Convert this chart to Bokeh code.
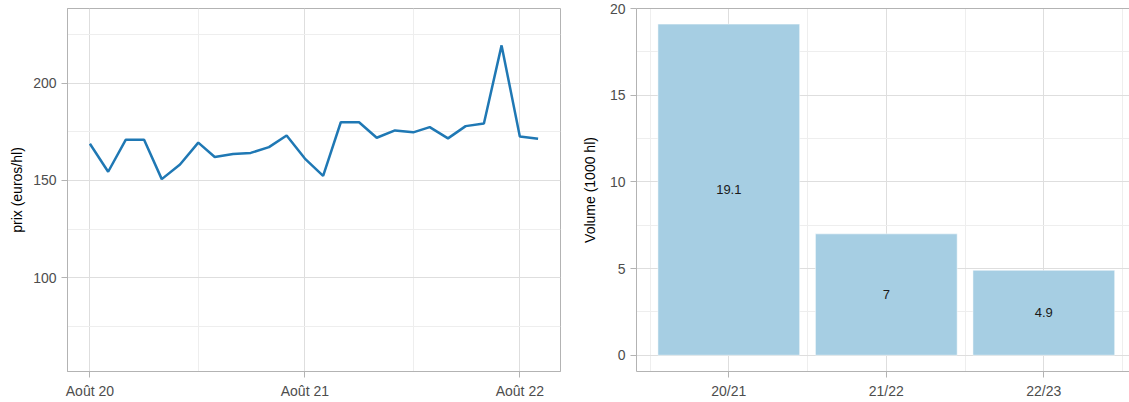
import pandas as pd
from bokeh.plotting import figure
from bokeh.layouts import row
from bokeh.models import FixedTicker, Range1d, LinearAxis, ColumnDataSource
from bokeh.embed import file_html
from bokeh.resources import INLINE
from bokeh.core.properties import value

# ---------------- data ----------------
months = ["2020-08", "2020-09", "2020-10", "2020-11", "2020-12", "2021-01",
          "2021-02", "2021-03", "2021-04", "2021-05", "2021-06", "2021-07",
          "2021-08", "2021-09", "2021-10", "2021-11", "2021-12", "2022-01",
          "2022-02", "2022-03", "2022-04", "2022-05", "2022-06", "2022-07",
          "2022-08", "2022-09"]
prices = [168.9, 154.5, 171.0, 171.0, 150.7, 158.2, 169.5, 162.1, 163.7, 164.2,
          167.2, 173.2, 161.3, 152.4, 180.0, 180.0, 172.0, 175.8, 174.8, 177.5,
          171.7, 178.0, 179.4, 219.6, 172.7, 171.5]
date_ticks = ["2020-08-01", "2021-08-01", "2022-08-01"]
date_tick_labels = ["Août 20", "Août 21", "Août 22"]
date_minor_ticks = ["2021-02-01", "2022-02-01"]
price_ticks = [100, 150, 200]
price_minor_ticks = [75, 125, 175, 225]

campaigns = ["20/21", "21/22", "22/23"]
volumes = [19.1, 7, 4.9]
volume_labels = ["19.1", "7", "4.9"]
volume_ticks = [0, 5, 10, 15, 20]
volume_minor_ticks = [2.5, 7.5, 12.5, 17.5]

# ---------------- style ----------------
FONT = "Liberation Sans"
BORDER = "#b3b3b3"
MAJOR = "#dedede"
MINOR = "#eeeeee"
TICKLAB = "#4d4d4d"
LINE = "#1f78b4"
BAR = "#a6cee3"


def ms(s):
    return int(pd.Timestamp(s).value // 10**6)


def style_axis(ax):
    ax.axis_line_color = BORDER
    ax.major_tick_line_color = BORDER
    ax.major_tick_out = 6
    ax.major_tick_in = 0
    ax.minor_tick_line_color = None
    ax.major_label_text_font = FONT
    ax.major_label_text_font_size = "14px"
    ax.major_label_text_color = TICKLAB
    ax.axis_label_text_font = FONT
    ax.axis_label_text_font_size = "14px"
    ax.axis_label_text_font_style = "normal"
    ax.axis_label_text_color = "#000000"


def style_grid(p):
    for g in (p.xgrid, p.ygrid):
        g.grid_line_color = MAJOR
        g.grid_line_width = 1
        g.minor_grid_line_color = MINOR
        g.minor_grid_line_width = 1


H = 402

# ---------------- left: price line ----------------
x_dates = [ms(m + "-01") for m in months]
span = x_dates[-1] - x_dates[0]
pad = 0.05 * span

p1 = figure(width=572, height=H, output_backend="svg", toolbar_location=None,
            x_axis_type="datetime",
            x_range=Range1d(x_dates[0] - pad, x_dates[-1] + pad),
            y_range=Range1d(51.6, 238.6),
            min_border_left=67, min_border_right=12, min_border_top=6,
            min_border_bottom=31)
p1.outline_line_color = BORDER
p1.outline_line_width = 1
p1.background_fill_color = "white"
p1.border_fill_color = "white"

src1 = ColumnDataSource(dict(x=x_dates, y=prices))
p1.line("x", "y", source=src1, line_color=LINE, line_width=2.5)

tick_ms = [ms(d) for d in date_ticks]
p1.xaxis.ticker = FixedTicker(ticks=tick_ms, minor_ticks=[ms(d) for d in date_minor_ticks])
p1.xaxis.major_label_overrides = dict(zip(tick_ms, date_tick_labels))
p1.yaxis.ticker = FixedTicker(ticks=price_ticks, minor_ticks=price_minor_ticks)
p1.yaxis.axis_label = "prix (euros/hl)"
for ax in (p1.xaxis[0], p1.yaxis[0]):
    style_axis(ax)
p1.xaxis.major_label_standoff = 5
p1.yaxis.major_label_standoff = 5
p1.yaxis.axis_label_standoff = 5
style_grid(p1)

# ---------------- right: volume bars ----------------
xpos = list(range(1, len(campaigns) + 1))
p2 = figure(width=557, height=H, output_backend="svg", toolbar_location=None,
            x_range=Range1d(0.414, 3.544), y_range=Range1d(-0.94, 20.001),
            min_border_left=64, min_border_right=0, min_border_top=8,
            min_border_bottom=31)
p2.outline_line_color = None
p2.background_fill_color = "white"
p2.border_fill_color = "white"

src2 = ColumnDataSource(dict(x=xpos, top=volumes, mid=[v / 2 for v in volumes],
                             lab=volume_labels))
p2.vbar(x="x", top="top", bottom=0, width=0.9, source=src2,
        fill_color=BAR, line_color="white", line_alpha=0.5, line_width=1)
p2.text(x="x", y="mid", text="lab", source=src2, text_align="center",
        text_baseline="middle", text_font=value(FONT), text_font_size="13px",
        text_color="#1a1a1a")

p2.xaxis.ticker = FixedTicker(ticks=xpos, minor_ticks=[0.5, 1.5, 2.5, 3.5])
p2.xaxis.major_label_overrides = dict(zip(xpos, campaigns))
p2.yaxis.ticker = FixedTicker(ticks=volume_ticks, minor_ticks=volume_minor_ticks)
p2.yaxis.axis_label = "Volume (1000 hl)"
for ax in (p2.xaxis[0], p2.yaxis[0]):
    style_axis(ax)
p2.xaxis.major_label_standoff = 5
p2.yaxis.major_label_standoff = 5
p2.yaxis.axis_label_standoff = 9
style_grid(p2)

top_ax = LinearAxis(ticker=FixedTicker(ticks=[]), axis_line_color=BORDER,
                    major_tick_line_color=None, minor_tick_line_color=None,
                    major_label_text_font_size="0px", major_tick_out=0,
                    major_label_standoff=0)
p2.add_layout(top_ax, "above")

layout = row(p1, p2)
open("out.html", "w").write(file_html(layout, INLINE))
